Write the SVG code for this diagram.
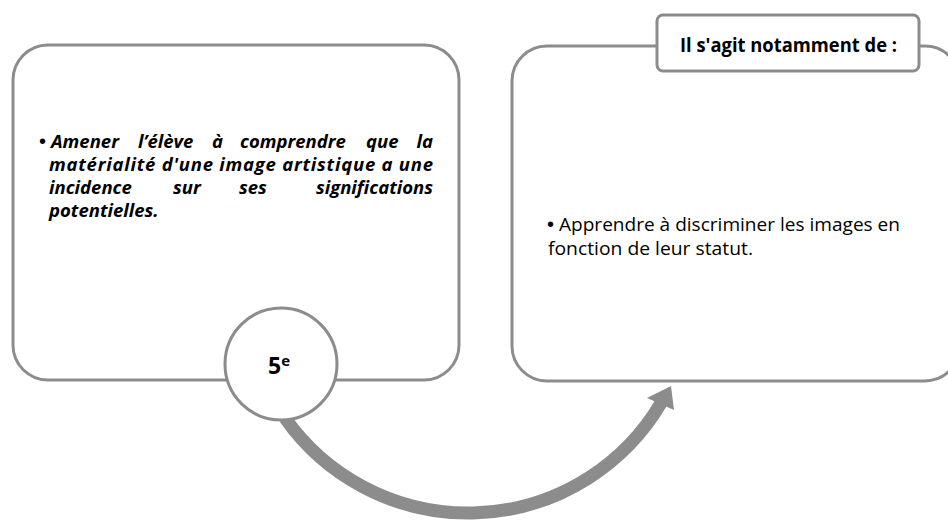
<svg xmlns="http://www.w3.org/2000/svg" width="948" height="520" viewBox="0 0 948 520">
<style>
.box{fill:#fff;stroke:#8c8c8c;stroke-width:3}
.bi{font-family:"Open Sans","Liberation Sans",sans-serif;font-weight:bold;font-style:italic;font-size:18.5px;fill:#000}
.reg{font-family:"Open Sans","Liberation Sans",sans-serif;font-size:19px;fill:#000}
.bold{font-family:"Open Sans","Liberation Sans",sans-serif;font-weight:bold;fill:#000}
.bul{font-family:"Liberation Sans",sans-serif;font-size:20px;font-style:normal;fill:#000}
</style>
<rect width="948" height="520" fill="#fff"/>
<g id="box-left">
<rect class="box" x="13" y="45" width="446" height="335" rx="35"/>
<text class="bul" x="39" y="148">•</text>
<text class="bi" y="148"><tspan x="51">Amener</tspan><tspan x="138">l’élève</tspan><tspan x="212">à</tspan><tspan x="240">comprendre</tspan><tspan x="366">que</tspan><tspan x="433" text-anchor="end">la</tspan></text>
<text class="bi" x="49" y="171" textLength="384" lengthAdjust="spacing">matérialité d'une image artistique a une</text>
<text class="bi" y="194"><tspan x="49">incidence</tspan><tspan x="173">sur</tspan><tspan x="239">ses</tspan><tspan x="433" text-anchor="end">significations</tspan></text>
<text class="bi" x="49" y="217">potentielles.</text>
</g>
<g id="box-right">
<rect class="box" x="512" y="46" width="448" height="335" rx="35"/>
<text class="bul" x="547" y="231">•</text>
<text class="reg" x="559" y="231" textLength="341" lengthAdjust="spacingAndGlyphs">Apprendre à discriminer les images en</text>
<text class="reg" x="548" y="255" textLength="205" lengthAdjust="spacingAndGlyphs">fonction de leur statut.</text>
</g>
<g id="label">
<rect class="box" x="657" y="15" width="262" height="56" rx="6"/>
<text class="bold" x="680" y="52" font-size="19" textLength="217" lengthAdjust="spacingAndGlyphs">Il s'agit notamment de :</text>
</g>
<g id="connectors">
<path d="M285,418 A224,224 0 0 0 661,403" fill="none" stroke="#8c8c8c" stroke-width="13"/>
<polygon points="671,386 647,398 674,410" fill="#8c8c8c"/>
</g>
<g id="circle-5e">
<circle class="box" cx="281" cy="364" r="56"/>
<text class="bold" x="268" y="374" font-size="23">5<tspan font-size="15" dy="-8">e</tspan></text>
</g>
</svg>
